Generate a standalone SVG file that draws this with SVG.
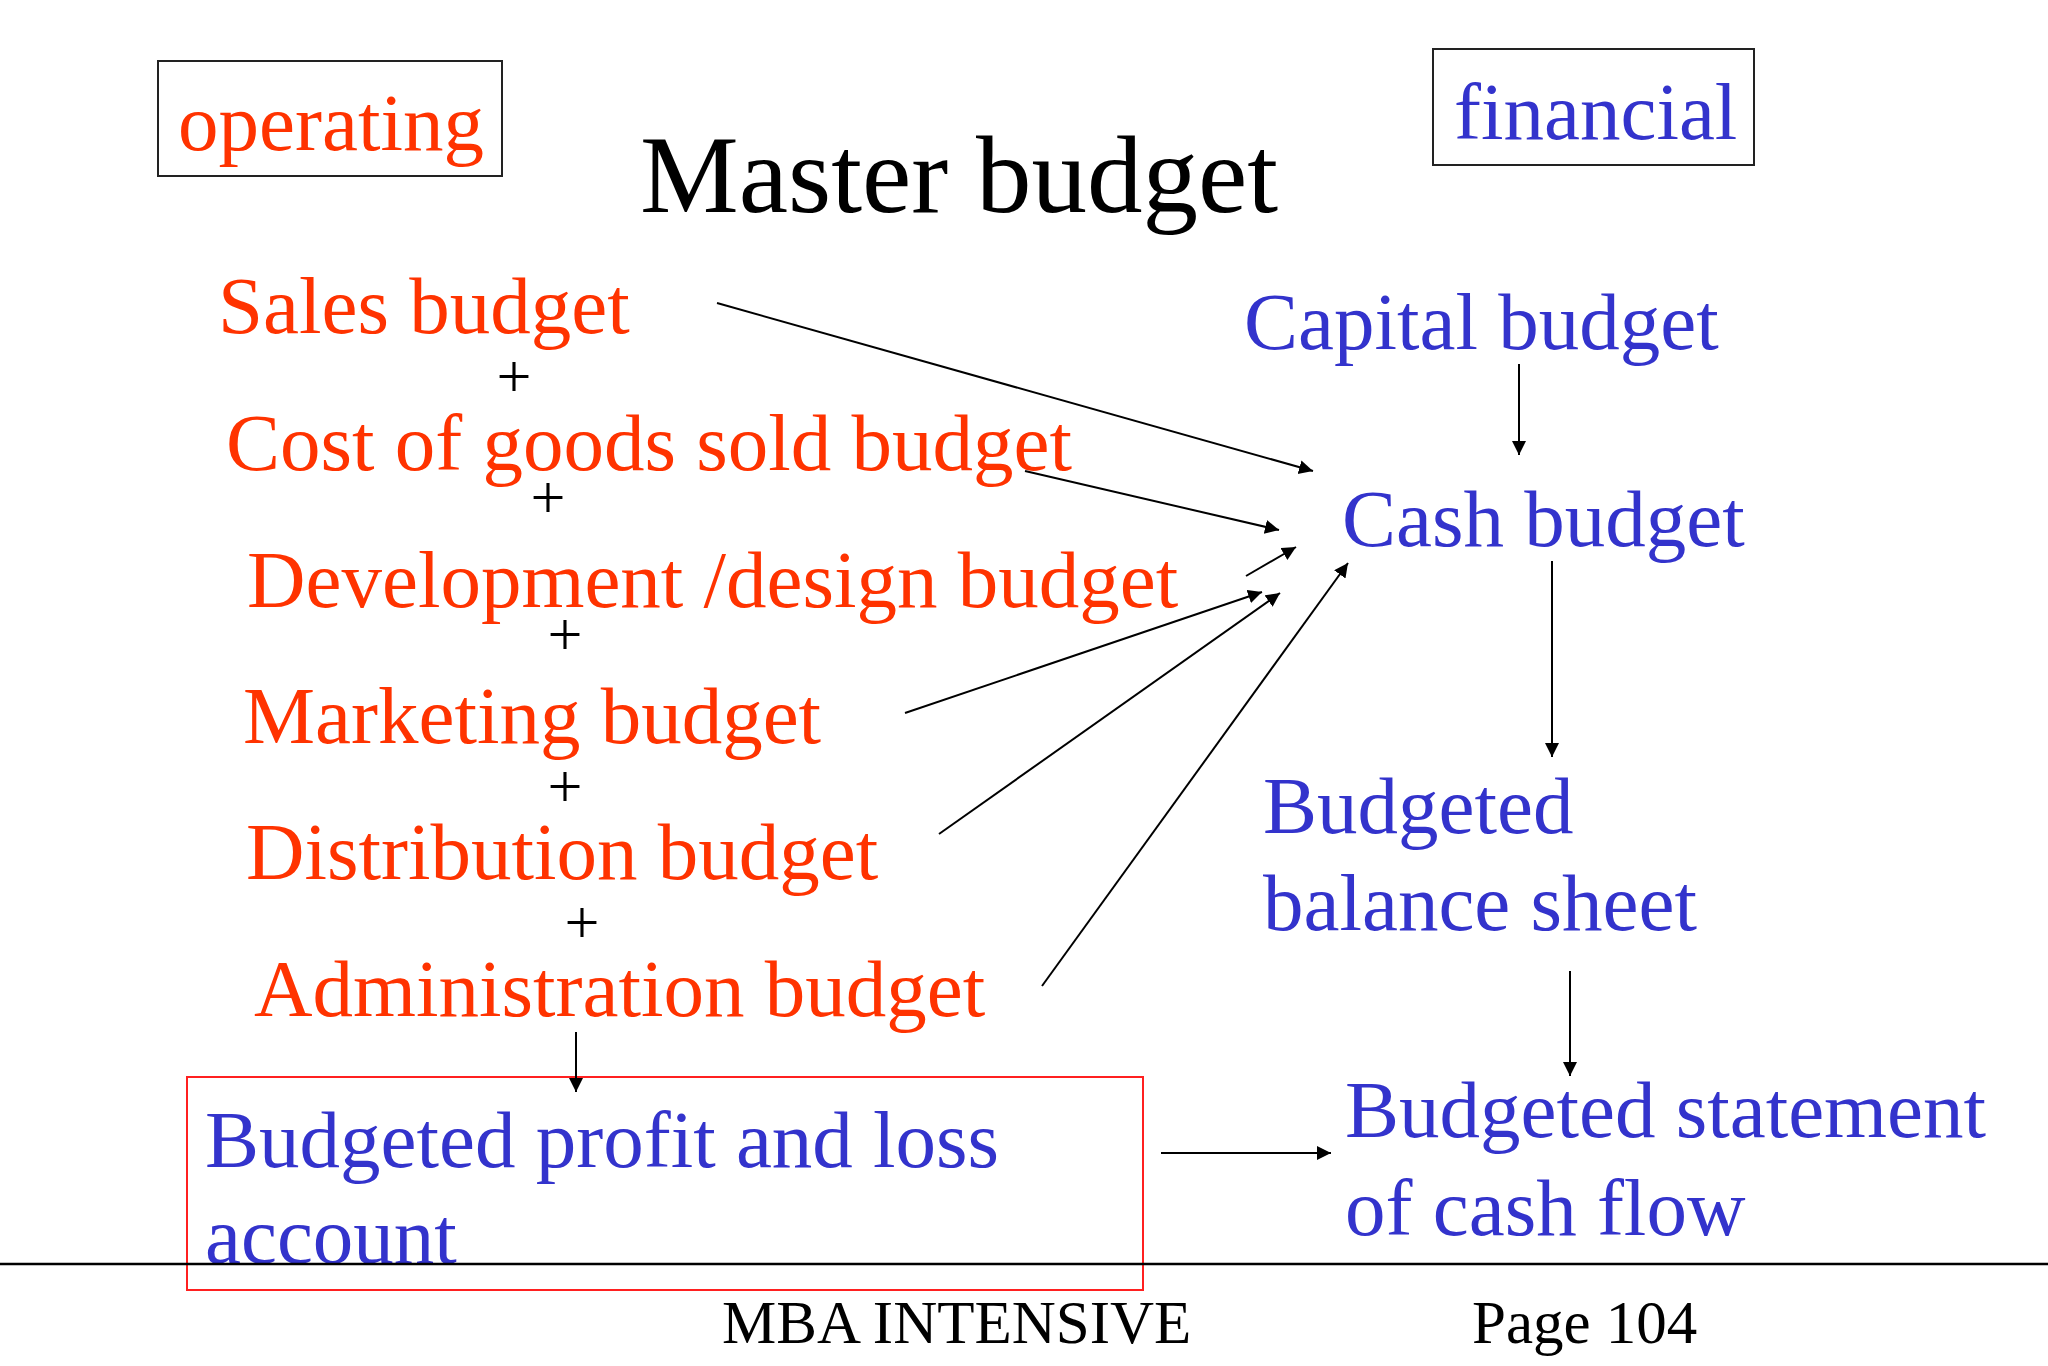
<svg xmlns="http://www.w3.org/2000/svg" width="2048" height="1366" viewBox="0 0 2048 1366">
<style>
text{font-family:"Liberation Serif","Times New Roman",serif;}
.red{fill:#ff3300;font-size:81px;}
.blue{fill:#3333cc;font-size:81px;}
.plus{fill:#000;font-size:62px;text-anchor:middle;}
.foot{fill:#000;font-size:61px;}
.conn{stroke:#000;stroke-width:2;fill:none;marker-end:url(#ah);}
.box{fill:none;stroke:#222;stroke-width:2;}
</style>
<defs>
<marker id="ah" markerUnits="userSpaceOnUse" markerWidth="16" markerHeight="16" refX="14" refY="7" orient="auto">
<path d="M0,0 L14,7 L0,14 z" fill="#000"/>
</marker>
</defs>
<rect width="2048" height="1366" fill="#ffffff"/>

<g id="title">
<text x="640" y="212" style="font-size:111px;fill:#000">Master budget</text>
</g>
<g id="operating">
<rect class="box" x="158" y="61" width="344" height="115"/>
<text class="red" x="178" y="150">operating</text>
</g>
<g id="financial">
<rect class="box" x="1433" y="49" width="321" height="116"/>
<text class="blue" x="1454" y="139">financial</text>
</g>

<g id="sales"><text class="red" x="218" y="333">Sales budget</text></g>
<g id="cogs"><text class="red" x="226" y="470">Cost of goods sold budget</text></g>
<g id="development"><text class="red" x="247" y="607">Development /design budget</text></g>
<g id="marketing"><text class="red" x="243" y="743">Marketing budget</text></g>
<g id="distribution"><text class="red" x="246" y="879">Distribution budget</text></g>
<g id="administration"><text class="red" x="254" y="1016">Administration budget</text></g>

<g id="plus-signs">
<text class="plus" x="514" y="397">+</text>
<text class="plus" x="548" y="518">+</text>
<text class="plus" x="565" y="655">+</text>
<text class="plus" x="565" y="807">+</text>
<text class="plus" x="582" y="943">+</text>
</g>

<g id="capital"><text class="blue" x="1244" y="349">Capital budget</text></g>
<g id="cash"><text class="blue" x="1342" y="546">Cash budget</text></g>
<g id="balance-sheet">
<text class="blue" x="1263" y="833">Budgeted</text>
<text class="blue" x="1263" y="930">balance sheet</text>
</g>
<g id="cash-flow">
<text class="blue" x="1345" y="1137">Budgeted statement</text>
<text class="blue" x="1345" y="1235">of cash flow</text>
</g>
<g id="profit-loss">
<rect x="187" y="1077" width="956" height="213" fill="none" stroke="#ff2020" stroke-width="2"/>
<text class="blue" x="205" y="1167">Budgeted profit and loss</text>
<text class="blue" x="205" y="1263">account</text>
</g>

<g id="connectors">
<line class="conn" x1="717" y1="303" x2="1313" y2="471"/>
<line class="conn" x1="1025" y1="471" x2="1279" y2="530"/>
<line class="conn" x1="1246" y1="576" x2="1296" y2="547"/>
<line class="conn" x1="905" y1="713" x2="1262" y2="592"/>
<line class="conn" x1="939" y1="834" x2="1280" y2="593"/>
<line class="conn" x1="1042" y1="986" x2="1348" y2="563"/>
<line class="conn" x1="1519" y1="364" x2="1519" y2="455"/>
<line class="conn" x1="1552" y1="561" x2="1552" y2="757"/>
<line class="conn" x1="1570" y1="971" x2="1570" y2="1076"/>
<line class="conn" x1="576" y1="1032" x2="576" y2="1092"/>
<line class="conn" x1="1161" y1="1153" x2="1331" y2="1153"/>
</g>

<g id="footer">
<line x1="0" y1="1264" x2="2048" y2="1264" stroke="#000" stroke-width="2.5"/>
<text class="foot" x="722" y="1343">MBA INTENSIVE</text>
<text class="foot" x="1472" y="1343">Page 104</text>
</g>
</svg>
